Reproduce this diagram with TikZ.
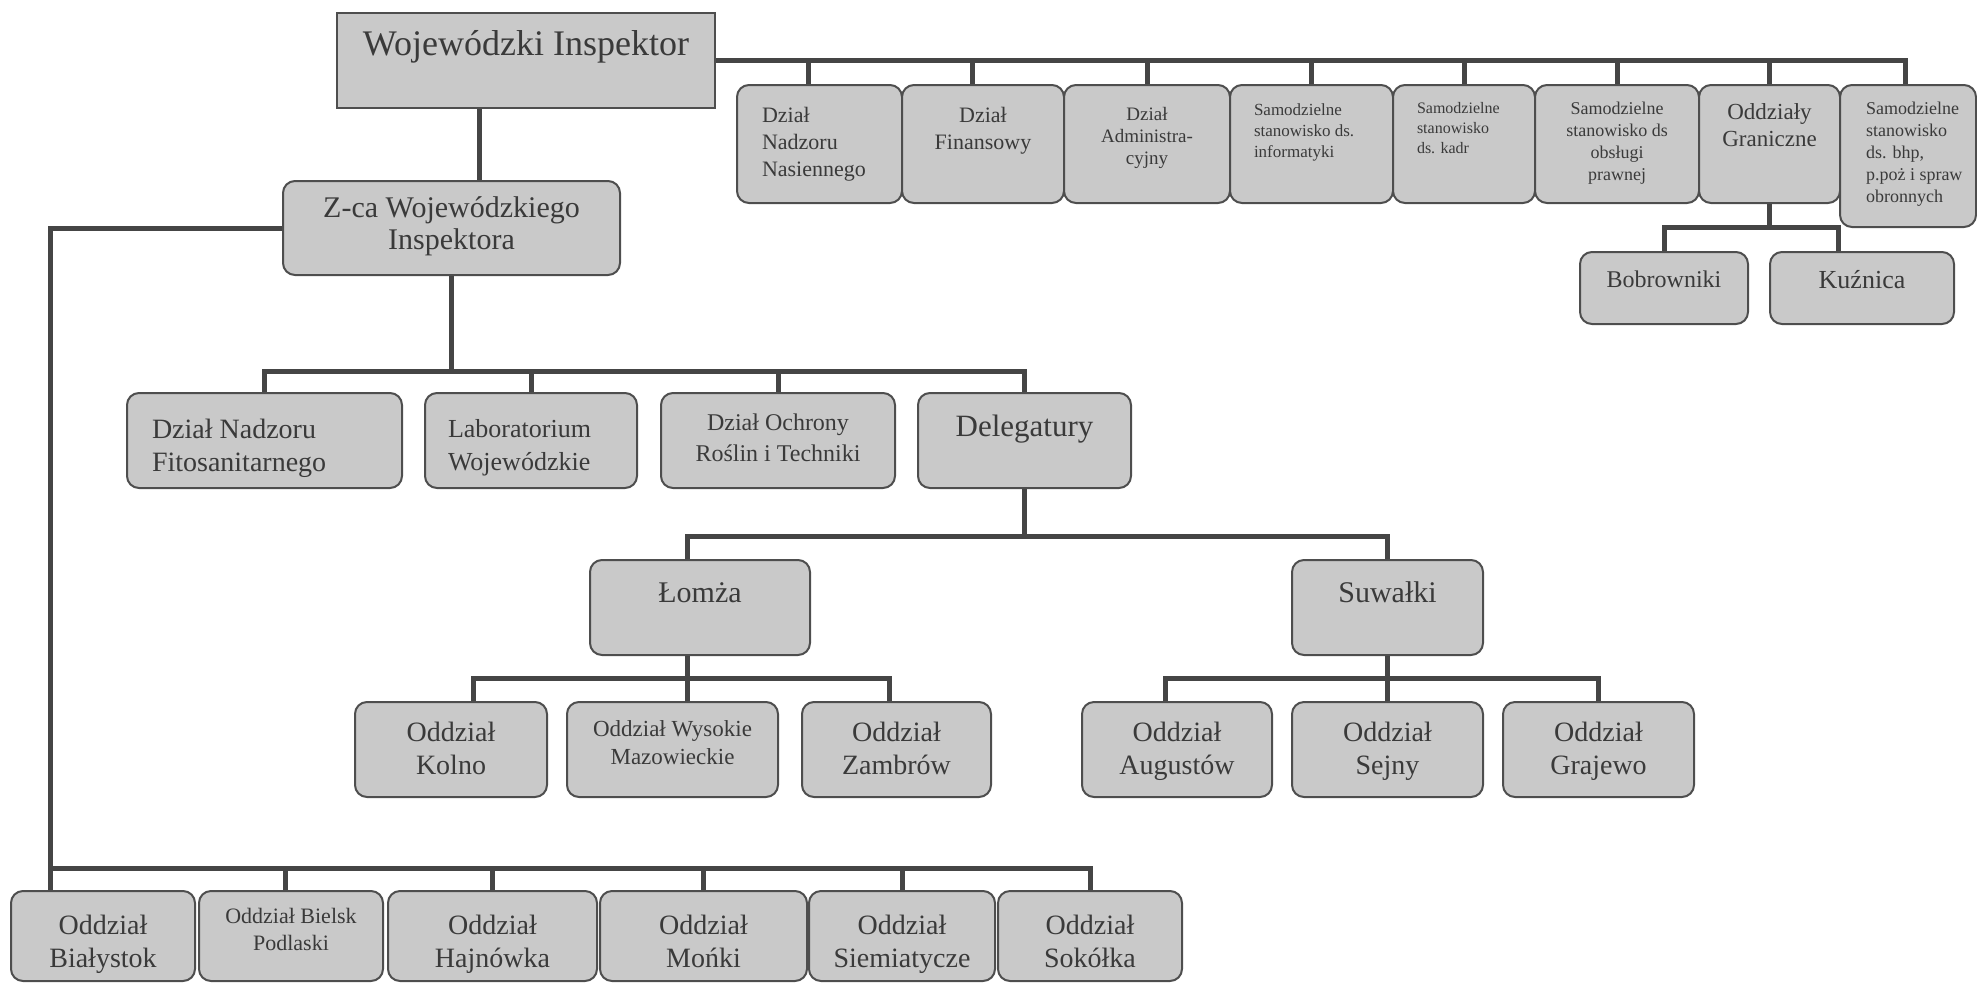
\documentclass[tikz,border=0pt]{standalone}
\usepackage{fontspec}
\setmainfont{Liberation Serif}

\definecolor{boxfill}{HTML}{C9C9C9}
\definecolor{boxline}{HTML}{4E4E4E}
\definecolor{linkline}{HTML}{454545}
\definecolor{ink}{HTML}{3A3A3A}

\begin{document}
\begin{tikzpicture}[x=1pt, y=-1pt,
  unit/.style={draw=boxline, fill=boxfill, line width=2pt, rounded corners=12pt, inner sep=0pt, text=ink},
  chief/.style={unit, sharp corners},
  link/.style={draw=linkline, line width=5pt}]

\newcommand\boxtxt[7]{\parbox[c][#2pt][t]{#1pt}{#4\fontsize{#5}{#6}\selectfont\vspace*{#3pt}#7}}
\newcommand\LEFT[1]{\raggedright\leftskip=#1pt\relax}

\useasboundingbox (0,0) rectangle (1977,983); %% spacing

%% head
\node[chief] (wi)  at (526,60.5)  {\boxtxt{378}{95}{17}{\centering}{36}{40}{Wojewódzki Inspektor}};
\node[unit]  (zca) at (451.5,228) {\boxtxt{337}{94}{16}{\centering}{30}{32}{Z-ca Wojewódzkiego\\Inspektora}};

%% top row
\node[unit] (dnn)  at (819.5,144)  {\boxtxt{165}{118}{22}{\LEFT{25}}{22}{27}{Dział\\Nadzoru\\Nasiennego}};
\node[unit] (dfi)  at (983,144)    {\boxtxt{162}{118}{22}{\centering}{22}{27}{Dział\\Finansowy}};
\node[unit] (dad)  at (1147,144)   {\boxtxt{166}{118}{22}{\centering}{19}{22}{Dział\\Administra-\\cyjny}};
\node[unit] (sinf) at (1311.5,144) {\boxtxt{163}{118}{19}{\LEFT{24}}{17}{21}{Samodzielne\\stanowisko ds.\\informatyki}};
\node[unit] (skad) at (1464,144)   {\boxtxt{142}{118}{17}{\LEFT{24}}{16}{20}{Samodzielne\\stanowisko\\ds. kadr}};
\node[unit] (sprw) at (1617,144)   {\boxtxt{164}{118}{17}{\centering}{18}{22}{Samodzielne\\stanowisko ds\\obsługi\\prawnej}};
\node[unit] (ogr)  at (1769.5,144) {\boxtxt{141}{118}{19}{\centering}{23}{27}{Oddziały\\Graniczne}};
\node[unit] (sbhp) at (1908,156)   {\boxtxt{136}{142}{17}{\LEFT{26}}{18}{22}{Samodzielne\\stanowisko\\ds. bhp,\\p.poż i spraw\\obronnych}};

\node[unit] (bob) at (1664,288) {\boxtxt{168}{72}{19}{\centering}{24}{28}{Bobrowniki}};
\node[unit] (kuz) at (1862,288) {\boxtxt{184}{72}{18}{\centering}{26}{30}{Kuźnica}};

%% second row
\node[unit] (dnf) at (264.5,440.5)  {\boxtxt{275}{95}{26}{\LEFT{25}}{28}{33}{Dział Nadzoru\\Fitosanitarnego}};
\node[unit] (lab) at (531,440.5)    {\boxtxt{212}{95}{26}{\LEFT{23}}{26}{33}{Laboratorium\\Wojewódzkie}};
\node[unit] (dor) at (778,440.5)    {\boxtxt{234}{95}{21}{\centering}{24}{31}{Dział Ochrony\\Roślin i Techniki}};
\node[unit] (del) at (1024.5,440.5) {\boxtxt{213}{95}{22}{\centering}{31}{35}{Delegatury}};

\node[unit] (lom) at (700,607.5)    {\boxtxt{220}{95}{23}{\centering}{30}{34}{Łomża}};
\node[unit] (suw) at (1387.5,607.5) {\boxtxt{191}{95}{22}{\centering}{30}{34}{Suwałki}};

\node[unit] (kol) at (451,749.5)    {\boxtxt{192}{95}{20}{\centering}{28}{33}{Oddział\\Kolno}};
\node[unit] (wma) at (672.5,749.5)  {\boxtxt{211}{95}{19}{\centering}{23}{28}{Oddział Wysokie\\Mazowieckie}};
\node[unit] (zam) at (896.5,749.5)  {\boxtxt{189}{95}{20}{\centering}{28}{33}{Oddział\\Zambrów}};
\node[unit] (aug) at (1177,749.5)   {\boxtxt{190}{95}{20}{\centering}{28}{33}{Oddział\\Augustów}};
\node[unit] (sej) at (1387.5,749.5) {\boxtxt{191}{95}{20}{\centering}{28}{33}{Oddział\\Sejny}};
\node[unit] (gra) at (1598.5,749.5) {\boxtxt{191}{95}{20}{\centering}{28}{33}{Oddział\\Grajewo}};

%% bottom row
\node[unit] (bia) at (103,936)   {\boxtxt{184}{90}{24}{\centering}{28}{33}{Oddział\\Białystok}};
\node[unit] (bie) at (291,936)   {\boxtxt{184}{90}{17}{\centering}{22}{27}{Oddział Bielsk\\Podlaski}};
\node[unit] (haj) at (492.5,936) {\boxtxt{209}{90}{24}{\centering}{28}{33}{Oddział\\Hajnówka}};
\node[unit] (mon) at (703.5,936) {\boxtxt{207}{90}{24}{\centering}{28}{33}{Oddział\\Mońki}};
\node[unit] (sie) at (902,936)   {\boxtxt{186}{90}{24}{\centering}{28}{33}{Oddział\\Siemiatycze}};
\node[unit] (sok) at (1090,936)  {\boxtxt{184}{90}{24}{\centering}{28}{33}{Oddział\\Sokółka}};

%% bus points
\coordinate (busB) at (451.5,371);
\coordinate (busD) at (1024.5,536);
\coordinate (busL) at (687,678);
\coordinate (busS) at (1387.5,678);
\coordinate (busO) at (1769.5,227);
\coordinate (busW) at (50,868);

%% connectors
\draw[link] ([xshift=-3pt]sbhp.north) |- (wi.east);
\draw[link] ([xshift=-11pt]dnn.north) |- (wi.east);
\draw[link] ([xshift=-11pt]dfi.north) |- (wi.east);
\draw[link] (dad.north) |- (wi.east);
\draw[link] (sinf.north) |- (wi.east);
\draw[link] (skad.north) |- (wi.east);
\draw[link] (sprw.north) |- (wi.east);
\draw[link] (ogr.north) |- (wi.east);

\draw[link] (ogr.south) -- (busO);
\draw[link] (bob.north) |- (busO);
\draw[link] ([xshift=-24pt]kuz.north) |- (busO);

\draw[link] ([xshift=-47pt]wi.south) -- ([xshift=27.5pt]zca.north);

\draw[link] (zca.south) -- (busB);
\draw[link] (dnf.north) |- (busB);
\draw[link] (lab.north) |- (busB);
\draw[link] (dor.north) |- (busB);
\draw[link] (del.north) |- (busB);

\draw[link] (del.south) -- (busD);
\draw[link] ([xshift=-13pt]lom.north) |- (busD);
\draw[link] (suw.north) |- (busD);

\draw[link] ([xshift=-13pt]lom.south) -- (busL);
\draw[link] ([xshift=22pt]kol.north) |- (busL);
\draw[link] ([xshift=14.5pt]wma.north) |- (busL);
\draw[link] ([xshift=-7.5pt]zam.north) |- (busL);

\draw[link] (suw.south) -- (busS);
\draw[link] ([xshift=-12pt]aug.north) |- (busS);
\draw[link] (sej.north) |- (busS);
\draw[link] (gra.north) |- (busS);

\draw[link] (zca.west) -| ([xshift=-53pt]bia.north);
\draw[link] ([xshift=-6pt]bie.north) |- (busW);
\draw[link] (haj.north) |- (busW);
\draw[link] (mon.north) |- (busW);
\draw[link] (sie.north) |- (busW);
\draw[link] (sok.north) |- (busW);

\end{tikzpicture}
\end{document}
